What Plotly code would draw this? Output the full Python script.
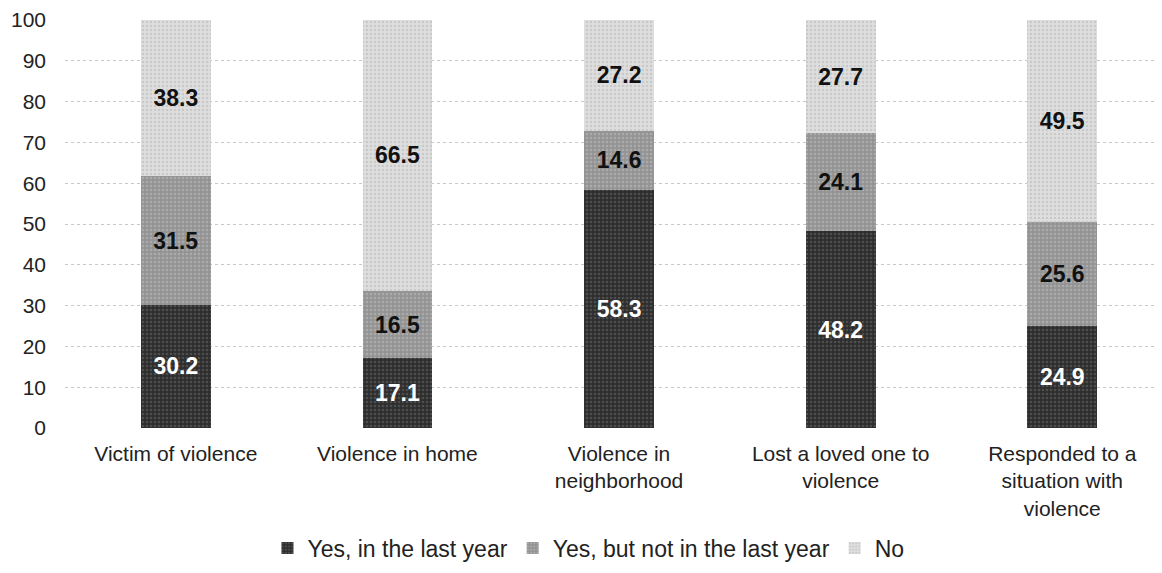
import plotly.graph_objects as go

categories = [
    "Victim of violence",
    "Violence in home",
    "Violence in<br>neighborhood",
    "Lost a loved one to<br>violence",
    "Responded to a<br>situation with<br>violence",
]
series_names = ["Yes, in the last year", "Yes, but not in the last year", "No"]
yes_last_year = [30.2, 17.1, 58.3, 48.2, 24.9]
yes_not_last_year = [31.5, 16.5, 14.6, 24.1, 25.6]
no_values = [38.3, 66.5, 27.2, 27.7, 49.5]
y_ticks = [0, 10, 20, 30, 40, 50, 60, 70, 80, 90, 100]

FONT = "Liberation Sans, Arial, sans-serif"
bg_colors = ["#2e2e2e", "#939393", "#dedede"]
fg_colors = ["#6e6e6e", "#c4c4c4", "#b4b4b4"]
label_colors = ["#ffffff", "#111111", "#111111"]

fig = go.Figure()
for name, vals, bg, fg, lc in zip(series_names, [yes_last_year, yes_not_last_year, no_values],
                                   bg_colors, fg_colors, label_colors):
    fig.add_trace(go.Bar(
        name=name,
        x=categories,
        y=vals,
        marker=dict(
            color=bg,
            line=dict(width=0),
            pattern=dict(shape=".", bgcolor=bg, fgcolor=fg, size=4, solidity=0.35, fillmode="overlay"),
        ),
        text=[f"{v:.1f}" for v in vals],
        textposition="inside",
        insidetextanchor="middle",
        textangle=0,
        constraintext="none",
        textfont=dict(family=FONT, size=23, color=lc, weight="bold"),
        hoverinfo="skip",
    ))

fig.update_layout(
    barmode="stack",
    bargap=0.685,
    width=1154,
    height=565,
    margin=dict(l=57, r=0, t=9, b=145),
    plot_bgcolor="white",
    paper_bgcolor="white",
    font=dict(family=FONT, size=21, color="#222222"),
    legend=dict(
        orientation="h",
        xref="container", yref="container",
        x=0.503, xanchor="center",
        y=0.044, yanchor="middle",
        font=dict(family=FONT, size=23, color="#222222"),
        traceorder="normal",
    ),
    xaxis=dict(
        range=[-0.5, 4.45],
        showgrid=False,
        showline=False,
        ticks="",
        ticklabelstandoff=11,
        tickfont=dict(family=FONT, size=21, color="#222222"),
    ),
    yaxis=dict(
        range=[0, 100],
        tickvals=y_ticks,
        showgrid=True,
        gridcolor="#c8c8c8",
        griddash="dot",
        gridwidth=1,
        zeroline=False,
        showline=False,
        ticks="",
        ticklabelstandoff=18,
        ticklabeloverflow="allow",
        tickfont=dict(family=FONT, size=21, color="#222222"),
    ),
)

fig.write_html("out.html")
